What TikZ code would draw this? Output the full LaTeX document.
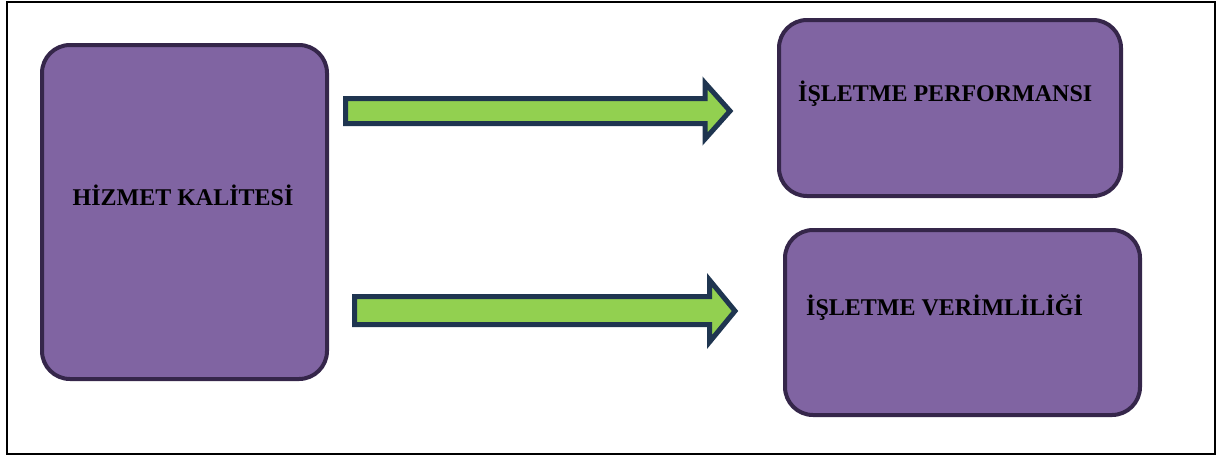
\documentclass[tikz,border=0pt]{standalone}
\usepackage{fontspec}
\setmainfont{Liberation Serif}
\definecolor{boxfill}{HTML}{8064A2}
\definecolor{boxline}{HTML}{35264A}
\definecolor{arrfill}{HTML}{92D050}
\definecolor{arrline}{HTML}{1F3550}
\tikzset{
  pbox/.style={draw=boxline, line width=4pt, fill=boxfill, rounded corners=28pt},
  garrow/.style={draw=arrline, line width=5pt, fill=arrfill, line join=miter},
  lbl/.style={font=\fontsize{24}{28}\selectfont\bfseries, text=black, inner sep=0pt},
}
\begin{document}
\begin{tikzpicture}[x=1pt,y=-1pt]
\useasboundingbox (0,0) rectangle (1217,456);
\draw[black, line width=2pt] (7,1.5) rectangle (1215,454);
% boxes
\draw[pbox] (42,45) rectangle (327,379);
\draw[pbox] (779,20) rectangle (1121,196);
\draw[pbox] (785,230) rectangle (1140,415);
% labels
\node[lbl, anchor=base] (hk) at (183,205) {HİZMET KALİTESİ};
\node[lbl, anchor=base west] (ip) at (798,101) {İŞLETME PERFORMANSI};
\node[lbl, anchor=base west] (iv) at (806,315) {İŞLETME VERİMLİLİĞİ};
% arrows
\draw[garrow] (345.5,98.5) -- (705,98.5) -- (705,83) -- (730,111) -- (705,139) -- (705,123.5) -- (345.5,123.5) -- cycle;
\draw[garrow] (354.5,296.5) -- (709.5,296.5) -- (709.5,280) -- (735,311) -- (709.5,342) -- (709.5,324.5) -- (354.5,324.5) -- cycle;
\end{tikzpicture}
\end{document}
